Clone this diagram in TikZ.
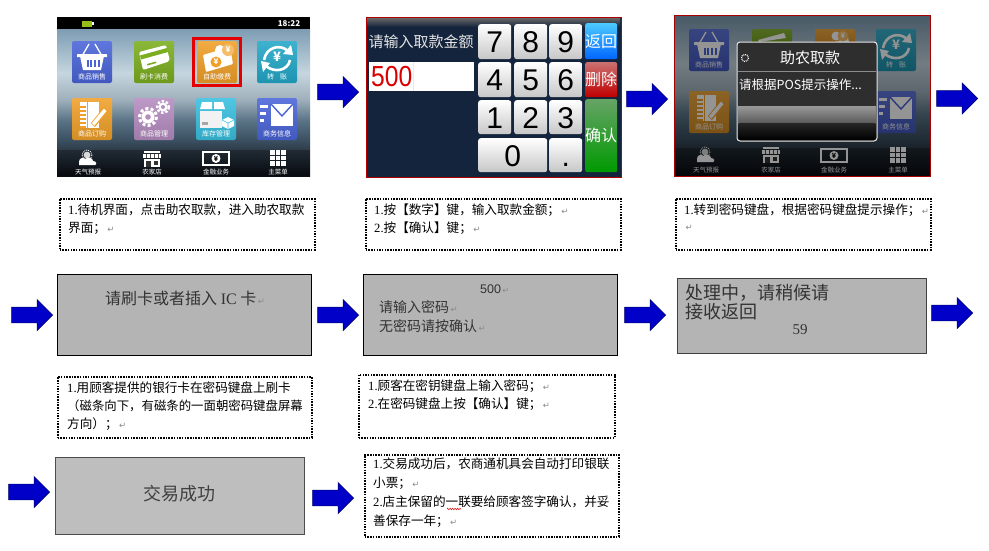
\documentclass[tikz,border=0pt]{standalone}
\usepackage{fontspec}
\usetikzlibrary{shapes.arrows,decorations.pathmorphing}
\setmainfont{Noto Sans CJK SC}
\newfontfamily\latserif{Liberation Serif}
\newfontfamily\latsans{Liberation Sans}
\newfontfamily\arrfont{DejaVu Sans}
\definecolor{arrowblue}{HTML}{0000C8}
\definecolor{arrowedge}{HTML}{000070}
\definecolor{graya}{HTML}{B4B4B4}
\definecolor{grayb}{HTML}{BEBEBE}
\definecolor{navy}{HTML}{14243C}
\definecolor{scrA}{HTML}{7D9CB3}
\definecolor{scrB}{HTML}{C5D6DF}
\definecolor{scrC}{HTML}{9FB0BC}
\definecolor{scrD}{HTML}{5A7486}
\definecolor{scrE}{HTML}{3A4F60}
\definecolor{scrF}{HTML}{2F3D4A}
\definecolor{scrG}{HTML}{0A0F15}
\definecolor{icBlue}{HTML}{4A64D8}
\definecolor{icGreen}{HTML}{7BAE1E}
\definecolor{icOrange}{HTML}{F0A028}
\definecolor{icTeal}{HTML}{22A8C8}
\definecolor{icPurple}{HTML}{B48CC0}
\definecolor{icCyan}{HTML}{38C0E0}
\definecolor{retgray}{HTML}{8A8A8A}
\pgfdeclareverticalshading{scrbg}{100bp}{color(0bp)=(scrG);color(25bp)=(scrG);color(34bp)=(scrF);color(37bp)=(scrE);color(44bp)=(scrD);color(51bp)=(scrC);color(60bp)=(scrB);color(75bp)=(scrA);color(100bp)=(scrA)}
\newcounter{autonode}
\newcommand{\lbl}[3][]{\stepcounter{autonode}\node[inner sep=0pt,#1] (t\theautonode) at #2 {#3};}
\newcommand{\ret}{{\arrfont\fontsize{8.5}{8.5}\selectfont\color{retgray}\,↵}}
\newcommand{\lat}[1]{{\latserif #1}}
\tikzset{
  blockarrow/.style={single arrow,draw=arrowedge,fill=arrowblue,line width=.6pt,minimum height=41pt,minimum width=31pt,inner sep=7.5pt,single arrow head extend=7.5pt,anchor=tip},
  graybox/.style={draw=black,line width=.8pt,anchor=north west,inner sep=0pt},
  notebox/.style={draw=black,line width=1.5pt,dash pattern=on 1.5pt off 1.2pt,anchor=north west,inner sep=0pt,fill=white},
  notetext/.style={anchor=west,inner sep=0pt,font=\fontsize{12.6}{12.6}\selectfont,text=black},
  boxtext/.style={anchor=west,inner sep=0pt,text=black!80},
  numkey/.style={anchor=north west,rounded corners=2.5pt,inner sep=0pt,text height=22pt,text depth=0pt,top color=white,bottom color=black!22,font=\latsans\fontsize{30}{30}\selectfont,text=black},
  sidekey/.style={anchor=north west,rounded corners=2pt,inner sep=0pt,minimum width=32pt,text=white,font=\fontsize{16}{16}\selectfont},
  iconlabel/.style={inner sep=0pt,text=white,font=\fontsize{7}{7}\selectfont},
  barlabel/.style={inner sep=0pt,text=white,font=\fontsize{6.5}{6.5}\selectfont},
}
% application tile: x, y, colour, glyph, label
\newcommand{\appicon}[5]{%
\begin{scope}[shift={(#1,#2)}]
  \shade[rounded corners=2pt,top color=#3!88!white,bottom color=#3!88!black] (0,0) rectangle (40,42);
  #4
  \lbl[iconlabel]{(20,36)}{#5}
\end{scope}}
\newcommand{\tile}[3]{%
\begin{scope}[shift={(#1,#2)}]
  \shade[rounded corners=2pt,top color=#3!88!white,bottom color=#3!88!black] (0,0) rectangle (40,20);
\end{scope}}
\newcommand{\gbasket}{%
  \draw[white,line width=1.3pt] (10,15)--(17,3) (30,15)--(23,3);
  \fill[white] (8,15)--(32,15)--(29,29)--(11,29)--cycle;
  \fill[white,rounded corners=.5pt] (5,13) rectangle (35,16);
  \foreach \q in {14.5,18.2,21.9,25.6}{\fill[icBlue] (\q,18.5) rectangle ++(2,7);}}
\newcommand{\gcard}{%
  \fill[white,rounded corners=2pt] (5,11)--(32,4)--(36,20)--(9,29)--cycle;
  \fill[icGreen] (6,14.5)--(33,7)--(34,11)--(7,18.5)--cycle;
  \fill[icGreen] (13,23)--(22,20.5)--(22.5,22)--(13.5,24.5)--cycle;}
\newcommand{\gmoney}{%
  \fill[white,rounded corners=1pt] (6,14)--(33,6)--(36,23)--(9,31)--cycle;
  \fill[icOrange] (19,21) circle[radius=5.5];
  \lbl[text=white,font=\bfseries\fontsize{8}{8}\selectfont]{(19,21)}{¥}
  \fill[white] (23,9) circle[radius=5];
  \fill[icOrange!70!white] (31,9) circle[radius=6];
  \lbl[text=white,font=\bfseries\fontsize{8}{8}\selectfont]{(31,9)}{¥}}
\newcommand{\gmoneytop}{%
  \fill[white] (6,19)--(33,8)--(34,13)--(9,20)--cycle;
  \fill[white] (21,7) circle[radius=4.5];
  \fill[icOrange!70!white] (28,7) circle[radius=5.5];
  \lbl[text=white,font=\bfseries\fontsize{7.5}{7.5}\selectfont]{(28,7)}{¥}}
\newcommand{\gtrans}{%
  \draw[white,line width=2.6pt] (7,19) .. controls (9,7) and (22,2) .. (31,10);
  \fill[white] (26,13)--(36,14)--(34,4)--cycle;
  \draw[white,line width=2.6pt] (33,19) .. controls (31,30) and (17,32) .. (9,25);
  \fill[white] (13,22)--(4,20)--(6,31)--cycle;
  \lbl[text=white,font=\bfseries\fontsize{13}{13}\selectfont]{(20,16)}{¥}}
\newcommand{\gorder}{%
  \fill[white] (8,4) rectangle (27,30);
  \foreach \q in {8,12,16,20,24,28}{\fill[icOrange] (8,\q) rectangle ++(6,1.6);}
  \draw[icOrange,line width=1pt] (15,3.5)--(15,30);
  \fill[icOrange] (19,25)--(32,9)--(36,13)--(23,29)--cycle;
  \fill[white] (20,25)--(32,10.5)--(34.5,13)--(22.5,27.5)--cycle;}
\newcommand{\ggears}{%
  \fill[white] (14,19) circle[radius=6.5];
  \draw[white,line width=3pt,dash pattern=on 3pt off 2.3pt] (14,19) circle[radius=8.5];
  \fill[icPurple] (14,19) circle[radius=2.8];
  \fill[white] (29,9) circle[radius=4.5];
  \draw[white,line width=2.4pt,dash pattern=on 2.4pt off 1.9pt] (29,9) circle[radius=5.8];
  \fill[icPurple] (29,9) circle[radius=2];}
\newcommand{\gbox}{%
  \fill[white] (6,4)--(16,4)--(16,11)--(4,11)--cycle;
  \fill[white] (18,4)--(27,4)--(29,11)--(18,11)--cycle;
  \fill[black!5] (4,13) rectangle (26,30);
  \fill[black!35] (6,24) rectangle (12,27);
  \fill[white] (32,19)--(38,22)--(38,28)--(32,31)--(26,28)--(26,22)--cycle;
  \draw[icCyan,line width=.6pt] (26,22)--(32,25)--(38,22) (32,25)--(32,31);}
\newcommand{\gmail}{%
  \fill[white] (14,6) rectangle (36,28);
  \draw[icBlue,line width=1.4pt] (14,6)--(25,18)--(36,6);
  \fill[white] (3,7) rectangle (11,9.5);
  \fill[white] (3,14) rectangle (9,16.5);
  \fill[white] (3,21) rectangle (6.5,23.5);}
% bottom-bar glyphs, centred on (x,y)
\newcommand{\bweather}[2]{%
  \begin{scope}[shift={(#1,#2)}]
  \draw[white,line width=.8pt,dash pattern=on 1pt off 1pt] (-1,-3) circle[radius=5];
  \fill[white!85!black] (-1,-3) circle[radius=3.4];
  \fill[white] (-9,7) -- (-9,4) .. controls (-9,0) and (-5,-1) .. (-3,1) .. controls (0,-2) and (5,0) .. (5,3) .. controls (9,3) and (9,7) .. (7,7) -- cycle;
  \end{scope}}
\newcommand{\bshop}[2]{%
  \begin{scope}[shift={(#1,#2)}]
  \fill[white] (-8,-8) rectangle (8,-6);
  \fill[white] (-9,-5) rectangle (9,-1);
  \foreach \q in {-6,-2,2,6}{\fill[black!70] (\q,-5) rectangle ++(.8,4);}
  \fill[white] (-8,0) rectangle (8,8);
  \fill[black!80] (-6,1.5) rectangle (-1,8);
  \fill[black!80] (1.5,1.5) rectangle (6,5.5);
  \end{scope}}
\newcommand{\bmoney}[2]{%
  \begin{scope}[shift={(#1,#2)}]
  \draw[white,line width=1.2pt] (-13,-6) rectangle (13,7);
  \fill[white] (0,.5) circle[radius=4.5];
  \lbl[text=black,font=\bfseries\fontsize{7}{7}\selectfont]{(0,.5)}{¥}
  \end{scope}}
\newcommand{\bgrid}[2]{%
  \begin{scope}[shift={(#1,#2)}]
  \foreach \a in {-8,-2.5,3}{\foreach \b in {-8,-2.5,3}{\fill[white] (\a,\b) rectangle ++(4.6,4.6);}}
  \end{scope}}
\begin{document}
\begin{tikzpicture}[x=1pt,y=-1pt]
\useasboundingbox (0,0) rectangle (989,550);
\fill[white] (0,0) rectangle (989,550);

% ---- screen 1 ----
\shade[shading=scrbg] (57,29) rectangle (310,176);
\fill[black] (57,17) rectangle (310,29);
\fill[icGreen!80!yellow] (82,20.5) rectangle (92,26.5);
\fill[white] (92,22) rectangle (93.5,25);
\lbl[text=white,font=\bfseries\fontsize{8}{8}\selectfont]{(289,24)}{18:22}
\appicon{72}{41}{icBlue}{\gbasket}{商品销售}
\appicon{134}{41}{icGreen}{\gcard}{刷卡消费}
\appicon{197}{41}{icOrange}{\gmoney}{自助缴费}
\appicon{257}{41}{icTeal}{\gtrans}{转\hspace{6pt}账}
\appicon{72}{98}{icOrange}{\gorder}{商品订购}
\appicon{134}{98}{icPurple}{\ggears}{商品管理}
\appicon{196}{98}{icCyan}{\gbox}{库存管理}
\appicon{257}{98}{icBlue}{\gmail}{商务信息}
\draw[red!90!black,line width=3pt] (193.5,38.5) rectangle (240.5,85.5);
\fill[black,opacity=.28] (57,150) rectangle (310,176);
\bweather{88}{158}
\bshop{152}{159}
\bmoney{216}{158}
\bgrid{278}{158}
\lbl[barlabel]{(88,172)}{天气预报}
\lbl[barlabel]{(152,172)}{农家店}
\lbl[barlabel]{(216,172)}{金融业务}
\lbl[barlabel]{(278,172)}{主菜单}

% ---- screen 2 ----
\fill[navy] (366,17) rectangle (621,177);
\shade[top color=black!60,bottom color=navy] (367,18) rectangle (620,27);
\draw[red!70!black,line width=1pt] (366,17.5) rectangle (621,177);
\node[inner sep=0pt,text=white!90!black,font=\fontsize{15}{15}\selectfont] (s2title) at (421,42) {请输入取款金额};
\fill[white] (369,62) rectangle (474,91);
\node[anchor=west,inner sep=0pt,text=red!85!black,font=\latsans\fontsize{29}{29}\selectfont,xscale=.85,transform shape] (s2val) at (371,77) {500};
\draw[red!12] (413,62)--(413,91);
\node[numkey,minimum width=33pt,minimum height=35pt] (k7) at (478,24) {7};
\node[numkey,minimum width=33pt,minimum height=35pt] (k8) at (514,24) {8};
\node[numkey,minimum width=33pt,minimum height=35pt] (k9) at (549,24) {9};
\node[numkey,minimum width=33pt,minimum height=35pt] (k4) at (478,62) {4};
\node[numkey,minimum width=33pt,minimum height=35pt] (k5) at (514,62) {5};
\node[numkey,minimum width=33pt,minimum height=35pt] (k6) at (549,62) {6};
\node[numkey,minimum width=33pt,minimum height=34pt] (k1) at (478,100) {1};
\node[numkey,minimum width=33pt,minimum height=34pt] (k2) at (514,100) {2};
\node[numkey,minimum width=33pt,minimum height=34pt] (k3) at (549,100) {3};
\node[numkey,minimum width=69pt,minimum height=34pt] (k0) at (478,138) {0};
\node[numkey,minimum width=33pt,minimum height=34pt] (kdot) at (549,138) {.};
\node[sidekey,minimum height=36pt,top color=blue!30!cyan!70!white,bottom color=blue!60!cyan] (kback) at (585,23) {返回};
\node[sidekey,minimum height=35pt,top color=red!45!white!80!black,bottom color=red!75!black] (kdel) at (585,62) {删除};
\node[sidekey,minimum height=73pt,top color=green!40!black!60!white,bottom color=green!60!black] (kok) at (585,99) {确认};

% ---- screen 3 ----
\shade[shading=scrbg] (674,15) rectangle (930,176);
\appicon{689}{29}{icBlue}{\gbasket}{商品销售}
\tile{752}{29}{icGreen}
\begin{scope}[shift={(752,29)}]
  \fill[white] (6,11)--(32,4)--(34,9)--(7,13)--cycle;
\end{scope}
\tile{815}{29}{icOrange}
\begin{scope}[shift={(815,29)}]\gmoneytop\end{scope}
\appicon{876}{29}{icTeal}{\gtrans}{转\hspace{6pt}账}
\appicon{689}{91}{icOrange}{\gorder}{商品订购}
\appicon{876}{91}{icBlue}{\gmail}{商务信息}
\fill[black,opacity=.28] (674,148) rectangle (930,176);
\bweather{706}{155}
\bshop{771}{155}
\bmoney{834}{155}
\bgrid{898}{155}
\lbl[barlabel]{(706,170)}{天气预报}
\lbl[barlabel]{(771,170)}{农家店}
\lbl[barlabel]{(834,170)}{金融业务}
\lbl[barlabel]{(898,170)}{主菜单}
\fill[black,opacity=.42] (674,15) rectangle (930,176);
\draw[red!65!black,line width=1pt] (674,15.5) rectangle (930,176);
\fill[black!82,rounded corners=3pt] (737,42) rectangle (877,141);
\shade[top color=black!40,bottom color=black!65] (738,106) rectangle (876,123);
\shade[top color=black!85,bottom color=black,rounded corners=2pt] (738,123) rectangle (876,140);
\draw[black!45,line width=.6pt] (738,71)--(876,71);
\draw[black!10,line width=1pt,rounded corners=3pt] (737,42) rectangle (877,141);
\draw[white,line width=1.3pt,dash pattern=on .8pt off 1pt] (745,58) circle[radius=3.5];
\node[inner sep=0pt,text=white,font=\fontsize{15}{15}\selectfont] (s3title) at (810,58) {助农取款};
\node[anchor=west,inner sep=0pt,text=white,font=\fontsize{12.5}{12.5}\selectfont] (s3msg) at (739,85) {请根据POS提示操作...};

% ---- block arrows ----
\node[blockarrow] (a1) at (359,92) {};
\node[blockarrow] (a2) at (668,99) {};
\node[blockarrow] (a3) at (978,98.5) {};
\node[blockarrow] (a4) at (53,315) {};
\node[blockarrow] (a5) at (359,315) {};
\node[blockarrow] (a6) at (666,315) {};
\node[blockarrow] (a7) at (973,313) {};
\node[blockarrow] (a8) at (50,492) {};
\node[blockarrow] (a9) at (354,498) {};

% ---- note boxes ----
\node[notebox,minimum width=255pt,minimum height=51pt] (n1) at (59,198) {};
\lbl[notetext]{(68,210)}{\lat{1.}待机界面，点击助农取款，进入助农取款}
\lbl[notetext]{(68,228)}{界面；\ret}
\node[notebox,minimum width=255pt,minimum height=51pt] (n2) at (365,198) {};
\lbl[notetext]{(374,210)}{\lat{1.}按【数字】键，输入取款金额；\ret}
\lbl[notetext]{(374,228)}{\lat{2.}按【确认】键；\ret}
\node[notebox,minimum width=255pt,minimum height=51pt] (n3) at (675,198) {};
\lbl[notetext]{(684,210)}{\lat{1.}转到密码键盘，根据密码键盘提示操作；\ret}
\lbl[notetext]{(684,228)}{\ret}
\node[notebox,minimum width=254pt,minimum height=61pt] (n4) at (57,376) {};
\lbl[notetext]{(67,388)}{\lat{1.}用顾客提供的银行卡在密码键盘上刷卡}
\lbl[notetext,font=\fontsize{12.4}{12.4}\selectfont]{(67,406)}{（磁条向下，有磁条的一面朝密码键盘屏幕}
\lbl[notetext]{(67,424)}{方向）；\ret}
\node[notebox,minimum width=256pt,minimum height=63pt] (n5) at (358,374) {};
\lbl[notetext]{(368,386)}{\lat{1.}顾客在密钥键盘上输入密码；\ret}
\lbl[notetext]{(368,404)}{\lat{2.}在密码键盘上按【确认】键；\ret}
\node[notebox,minimum width=254pt,minimum height=82pt] (n6) at (364,454) {};
\lbl[notetext]{(373,464)}{\lat{1.}交易成功后，农商通机具会自动打印银联}
\lbl[notetext]{(373,483)}{小票；\ret}
\lbl[notetext]{(373,502)}{\lat{2.}店主保留的一联要给顾客签字确认，并妥}
\lbl[notetext]{(373,521)}{善保存一年；\ret}
\coordinate (sqa) at (447,509);
\coordinate (sqb) at (461,509);
\draw[red!85!black,line width=.5pt,decorate,decoration={zigzag,amplitude=.8pt,segment length=2.5pt}] (sqa)--(sqb);

% ---- gray boxes ----
\node[graybox,fill=graya,minimum width=254pt,minimum height=81pt] (g1) at (57,274) {};
\lbl[boxtext,font=\fontsize{16}{16}\selectfont]{(105,298)}{请刷卡或者插入 \lat{IC} 卡\ret}
\node[graybox,fill=graya,minimum width=254pt,minimum height=81pt] (g2) at (363,274) {};
\lbl[boxtext,font=\latsans\fontsize{12.5}{12.5}\selectfont]{(480,289)}{500\ret}
\lbl[boxtext,font=\fontsize{14}{14}\selectfont]{(379,307)}{请输入密码\ret}
\lbl[boxtext,font=\fontsize{14}{14}\selectfont]{(379,326)}{无密码请按确认\ret}
\node[graybox,fill=graya,draw=black!75,minimum width=249pt,minimum height=75pt] (g3) at (677,278) {};
\lbl[boxtext,font=\fontsize{18}{18}\selectfont]{(685,293)}{处理中，请稍候请}
\lbl[boxtext,font=\fontsize{18}{18}\selectfont]{(685,312)}{接收返回}
\lbl[text=black!80,font=\latserif\fontsize{15}{15}\selectfont]{(800,330)}{59}
\node[graybox,fill=grayb,draw=black!70,minimum width=249pt,minimum height=77pt] (g4) at (55,457) {};
\lbl[text=black!75,font=\fontsize{18}{18}\selectfont]{(179,494)}{交易成功}
\end{tikzpicture}
\end{document}
